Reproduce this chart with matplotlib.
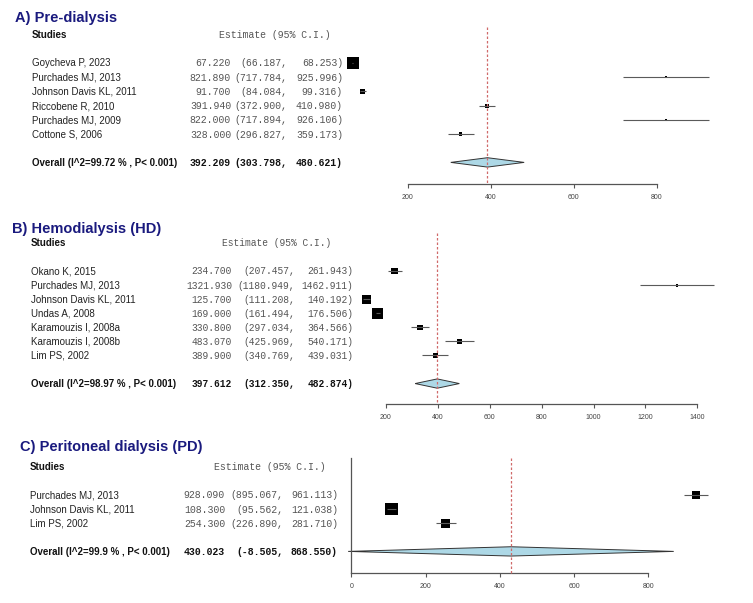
import matplotlib
matplotlib.use("Agg")
import matplotlib.pyplot as plt
from matplotlib.transforms import Affine2D
from matplotlib.patches import Polygon

# ---------------- data ----------------
A_studies = ["Goycheva P, 2023", "Purchades MJ, 2013", "Johnson Davis KL, 2011",
             "Riccobene R, 2010", "Purchades MJ, 2009", "Cottone S, 2006"]
A_est = [67.220, 821.890, 91.700, 391.940, 822.000, 328.000]
A_lo = [66.187, 717.784, 84.084, 372.900, 717.894, 296.827]
A_hi = [68.253, 925.996, 99.316, 410.980, 926.106, 359.173]
A_weights = [71.3, 2.0, 12.4, 7.9, 2.0, 4.5]
A_overall = [392.209, 303.798, 480.621]
A_i2 = "99.72"
A_ticks = [200, 400, 600, 800]

B_studies = ["Okano K, 2015", "Purchades MJ, 2013", "Johnson Davis KL, 2011",
             "Undas A, 2008", "Karamouzis I, 2008a", "Karamouzis I, 2008b", "Lim PS, 2002"]
B_est = [234.700, 1321.930, 125.700, 169.000, 330.800, 483.070, 389.900]
B_lo = [207.457, 1180.949, 111.208, 161.494, 297.034, 425.969, 340.769]
B_hi = [261.943, 1462.911, 140.192, 176.506, 364.566, 540.171, 439.031]
B_weights = [14.4, 2.6, 23.8, 35.6, 8.9, 7.4, 7.4]
B_overall = [397.612, 312.350, 482.874]
B_i2 = "98.97"
B_ticks = [200, 400, 600, 800, 1000, 1200, 1400]

C_studies = ["Purchades MJ, 2013", "Johnson Davis KL, 2011", "Lim PS, 2002"]
C_est = [928.090, 108.300, 254.300]
C_lo = [895.067, 95.562, 226.890]
C_hi = [961.113, 121.038, 281.710]
C_weights = [21.6, 51.0, 27.4]
C_overall = [430.023, -8.505, 868.550]
C_i2 = "99.9"
C_ticks = [0, 200, 400, 600, 800]

titles = ["A) Pre-dialysis", "B) Hemodialysis (HD)", "C) Peritoneal dialysis (PD)"]

# ---------------- figure ----------------
W, H = 753, 603
fig = plt.figure(figsize=(W / 100, H / 100), dpi=100)
fig.patch.set_facecolor("white")
tpx = Affine2D().scale(1 / W, -1 / H).translate(0, 1) + fig.transFigure

SANS = "Liberation Sans"
MONO = "Liberation Mono"
TITLE_C = "#1a1a7e"
GREY_T = "#555555"


def panel(title, studies, est, lo, hi, weights, overall, i2, ticks, cfg):
    (title_xy, studies_xy, hdr_x, col_x, row0, pitch, a, b,
     box, axis_y, top_y, smax, left_spine, mfs) = cfg
    n = len(studies)
    fig.text(title_xy[0], title_xy[1], title, transform=tpx, fontsize=10.5,
             fontweight="bold", color=TITLE_C, family=SANS, va="baseline")
    fig.text(studies_xy[0], studies_xy[1], "Studies", transform=tpx, fontsize=7,
             fontweight="bold", color="#111111", family=SANS, va="baseline")
    fig.text(hdr_x, studies_xy[1], "Estimate (95% C.I.)", transform=tpx, fontsize=mfs,
             color=GREY_T, family=MONO, va="baseline", ha="right")
    for i in range(n):
        yb = row0 + pitch * i + 3.5
        fig.text(studies_xy[0], yb, studies[i], transform=tpx, fontsize=7,
                 color="#222222", family=SANS, va="baseline")
        fig.text(col_x[0], yb, f"{est[i]:.3f}", transform=tpx, fontsize=mfs,
                 color=GREY_T, family=MONO, va="baseline", ha="right")
        fig.text(col_x[1], yb, f"({lo[i]:.3f},", transform=tpx, fontsize=mfs,
                 color=GREY_T, family=MONO, va="baseline", ha="right")
        fig.text(col_x[2], yb, f"{hi[i]:.3f})", transform=tpx, fontsize=mfs,
                 color=GREY_T, family=MONO, va="baseline", ha="right")
    yo = row0 + pitch * (n + 1) + 3.5
    fig.text(studies_xy[0], yo, f"Overall (I^2={i2} % , P< 0.001)", transform=tpx,
             fontsize=7, fontweight="bold", color="#111111", family=SANS, va="baseline")
    fig.text(col_x[0], yo, f"{overall[0]:.3f}", transform=tpx, fontsize=mfs,
             fontweight="bold", color="#111111", family=MONO, va="baseline", ha="right")
    fig.text(col_x[1], yo, f"({overall[1]:.3f},", transform=tpx, fontsize=mfs,
             fontweight="bold", color="#111111", family=MONO, va="baseline", ha="right")
    fig.text(col_x[2], yo, f"{overall[2]:.3f})", transform=tpx, fontsize=mfs,
             fontweight="bold", color="#111111", family=MONO, va="baseline", ha="right")

    x0, y0, x1, y1 = box
    ax = fig.add_axes([x0 / W, 1 - y1 / H, (x1 - x0) / W, (y1 - y0) / H])
    ax.patch.set_alpha(0)
    ax.set_xlim((x0 - a) / b, (x1 - a) / b)
    ax.set_ylim((y1 - row0) / pitch, (y0 - row0) / pitch)
    rows = list(range(n))
    axis_row = (axis_y - row0) / pitch
    top_row = (top_y - row0) / pitch
    orow = n + 1

    wmax = max(weights)
    sizes = [(smax * (w / wmax) ** 0.5 * 0.72) ** 2 for w in weights]
    ax.scatter(est, rows, s=sizes, marker="s", color="black", linewidths=0, zorder=2)
    ax.hlines(rows, lo, hi, color="#5a5a5a", lw=0.8, zorder=3)

    h = 0.33
    dia = Polygon([(overall[1], orow), (overall[0], orow - h), (overall[2], orow),
                   (overall[0], orow + h)], closed=True, facecolor="#add8e6",
                  edgecolor="#333333", lw=0.7, zorder=2)
    ax.add_patch(dia)
    ax.vlines(overall[0], top_row, axis_row, colors="#d06a6a", lw=0.9,
              linestyles=(0, (2, 1.6)), zorder=4)

    for s in ["top", "right", "left"]:
        ax.spines[s].set_visible(False)
    ax.spines["bottom"].set_position(("data", axis_row))
    ax.spines["bottom"].set_bounds(ticks[0], ticks[-1])
    ax.spines["bottom"].set_color("#555555")
    ax.spines["bottom"].set_linewidth(0.9)
    if left_spine:
        ax.spines["left"].set_visible(True)
        ax.spines["left"].set_position(("data", 0))
        ax.spines["left"].set_bounds(top_row, axis_row)
        ax.spines["left"].set_color("#555555")
        ax.spines["left"].set_linewidth(0.9)
    ax.set_xticks(ticks)
    ax.set_xticklabels([str(t) for t in ticks])
    ax.set_yticks([])
    ax.tick_params(axis="x", direction="out", length=3, width=0.8, colors="#555555",
                   labelsize=5, labelcolor="#444444", pad=4.5)
    ax.tick_params(axis="y", left=False, labelleft=False)
    for lab in ax.get_xticklabels():
        lab.set_family(SANS)
    return ax


cfgA = ((15, 22), (32, 37.5), 331, (231, 287, 343), 63, 14.2, 324.7, 0.415,
        (345, 20, 728, 205), 184, 27, 12, False, 7.1)
cfgB = ((12, 233), (31, 246.5), 331, (232, 295, 353.5), 271, 14.07, 334.1, 0.2594,
        (345, 225, 730, 425), 404, 233, 11, False, 6.9)
cfgC = ((20, 451), (30, 470.5), 326, (225, 283, 338), 495, 14.1, 351.3, 0.37125,
        (340, 450, 730, 600), 573, 458, 12.3, True, 7.1)

panel(titles[0], A_studies, A_est, A_lo, A_hi, A_weights, A_overall, A_i2, A_ticks, cfgA)
panel(titles[1], B_studies, B_est, B_lo, B_hi, B_weights, B_overall, B_i2, B_ticks, cfgB)
panel(titles[2], C_studies, C_est, C_lo, C_hi, C_weights, C_overall, C_i2, C_ticks, cfgC)

fig.savefig("out.png", dpi=100)
